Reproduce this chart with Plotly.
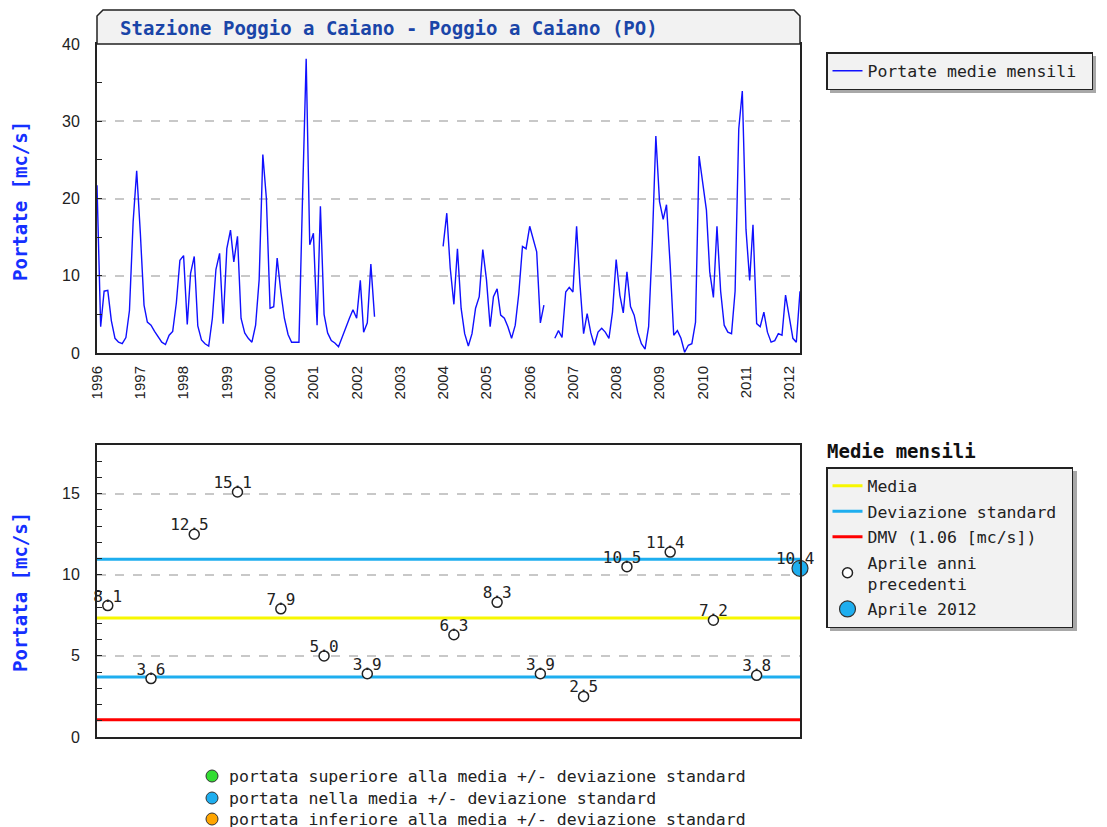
import plotly.graph_objects as go

W, H = 1107, 827
PAGE_MARGIN = 8  # default body margin of the html page
MONO = "DejaVu Sans Mono"
SANS = "Liberation Sans"

# monthly mean flow [mc/s], Jan..Dec, None = missing month
FLOW_1996 = [21.7, 3.4, 8.0, 8.1, 4.2, 1.9, 1.4, 1.2, 2.0, 5.5, 17.0, 23.6]
FLOW_1997 = [15.5, 6.2, 4.0, 3.6, 2.8, 2.1, 1.4, 1.1, 2.3, 2.8, 6.5, 12.0]
FLOW_1998 = [12.6, 3.7, 10.3, 12.5, 3.5, 1.7, 1.2, 0.9, 4.5, 10.8, 12.9, 3.8]
FLOW_1999 = [13.5, 15.9, 11.8, 15.1, 4.5, 2.6, 1.9, 1.4, 3.6, 9.5, 25.7, 20.0]
FLOW_2000 = [5.8, 6.0, 12.3, 7.9, 4.5, 2.4, 1.4, 1.4, 1.4, 20.0, 38.1, 14.0]
FLOW_2001 = [15.5, 3.6, 19.0, 5.0, 2.6, 1.6, 1.3, 0.8, 2.1, 3.2, 4.5, 5.6]
FLOW_2002 = [4.5, 9.4, 2.7, 3.9, 11.5, 4.7, None, None, None, None, None, None]
FLOW_2003 = [None] * 12
FLOW_2004 = [13.8, 18.1, 11.0, 6.3, 13.5, 5.8, 2.5, 0.9, 2.5, 5.8, 7.3, 13.4]
FLOW_2005 = [9.5, 3.4, 7.3, 8.3, 4.9, 4.5, 3.4, 1.9, 3.6, 7.7, 13.8, 13.5]
FLOW_2006 = [16.4, 14.5, 13.1, 3.9, 6.2, None, None, 1.9, 2.9, 2.0, 7.9, 8.5]
FLOW_2007 = [7.9, 16.4, 9.0, 2.5, 5.1, 2.6, 1.0, 2.7, 3.2, 2.7, 1.9, 5.3]
FLOW_2008 = [12.1, 7.5, 5.2, 10.5, 6.0, 4.9, 2.7, 1.2, 0.5, 3.4, 14.2, 28.1]
FLOW_2009 = [19.6, 17.3, 19.2, 11.4, 2.3, 2.9, 1.9, 0.1, 1.0, 1.2, 4.0, 25.5]
FLOW_2010 = [21.6, 18.5, 10.5, 7.2, 16.4, 8.0, 3.6, 2.7, 2.5, 8.0, 29.0, 33.9]
FLOW_2011 = [16.0, 9.4, 16.6, 3.8, 3.4, 5.3, 2.7, 1.4, 1.6, 2.5, 2.3, 7.5]
FLOW_2012 = [4.7, 1.9, 1.4, 8.0]

YEARS = list(range(1996, 2013))

# April means of previous years (2003 missing) and April 2012
APRIL_YEARS = [1996, 1997, 1998, 1999, 2000, 2001, 2002,
               2004, 2005, 2006, 2007, 2008, 2009, 2010, 2011]
APRIL_FLOW = [8.1, 3.6, 12.5, 15.1, 7.9, 5.0, 3.9,
              6.3, 8.3, 3.9, 2.5, 10.5, 11.4, 7.2, 3.8]
APRIL_2012 = 10.4
MEDIA = 7.33
DEV_STD = 3.63
DMV = 1.06

monthly = (FLOW_1996 + FLOW_1997 + FLOW_1998 + FLOW_1999 + FLOW_2000 + FLOW_2001
           + FLOW_2002 + FLOW_2003 + FLOW_2004 + FLOW_2005 + FLOW_2006 + FLOW_2007
           + FLOW_2008 + FLOW_2009 + FLOW_2010 + FLOW_2011 + FLOW_2012)
dates = [f"{1996 + i // 12}-{i % 12 + 1:02d}-01" for i in range(len(monthly))]
X0, X1 = dates[0], dates[-1]
april_dates = [f"{y}-04-01" for y in APRIL_YEARS]


def px(x):
    # screen pixel -> paper fraction
    return (x - PAGE_MARGIN) / W


def py(y):
    return 1 - (y - PAGE_MARGIN) / H


def label(v):
    # pad so that the decimal point sits over the marker
    s = f"{v:.1f}"
    return s + "\u00a0" if v >= 10 else s


CYAN = "#1EAEEF"
fig = go.Figure()

fig.add_trace(go.Scatter(
    x=dates, y=monthly, mode="lines", name="Portate medie mensili\u00a0",
    line=dict(color="#1010ff", width=1.4), legend="legend",
    xaxis="x", yaxis="y",
))

fig.add_trace(go.Scatter(
    x=[X0, X1], y=[MEDIA, MEDIA], mode="lines", name="Media",
    line=dict(color="#f7f700", width=3), legend="legend2",
    xaxis="x2", yaxis="y2", legendgroup="a",
))
fig.add_trace(go.Scatter(
    x=[X0, X1, None, X0, X1],
    y=[MEDIA + DEV_STD, MEDIA + DEV_STD, None, MEDIA - DEV_STD, MEDIA - DEV_STD],
    mode="lines", name="Deviazione standard\u00a0",
    line=dict(color=CYAN, width=3), legend="legend2",
    xaxis="x2", yaxis="y2", legendgroup="b",
))
fig.add_trace(go.Scatter(
    x=[X0, X1], y=[DMV, DMV], mode="lines", name=f"DMV ({DMV:.2f} [mc/s])",
    line=dict(color="#ff0000", width=3), legend="legend2",
    xaxis="x2", yaxis="y2", legendgroup="c",
))
fig.add_trace(go.Scatter(
    x=april_dates, y=APRIL_FLOW,
    mode="markers", name="Aprile anni<br>precedenti",
    marker=dict(symbol="circle", size=10, color="white",
                line=dict(color="#222", width=1.5)),
    cliponaxis=False, legend="legend2",
    xaxis="x2", yaxis="y2", legendgroup="d",
))
fig.add_trace(go.Scatter(
    x=["2012-04-01"], y=[APRIL_2012],
    mode="markers", name="Aprile 2012",
    marker=dict(symbol="circle", size=16, color=CYAN,
                line=dict(color="#333", width=1.2)),
    cliponaxis=False, legend="legend2",
    xaxis="x2", yaxis="y2", legendgroup="e",
))
# value labels just above each marker
fig.add_trace(go.Scatter(
    x=april_dates + ["2012-04-01"], y=APRIL_FLOW + [APRIL_2012],
    mode="text", text=[label(v) for v in APRIL_FLOW + [APRIL_2012]],
    textposition="top center", showlegend=False, cliponaxis=False,
    textfont=dict(family=MONO, size=16, color="#222"),
    xaxis="x2", yaxis="y2",
))

axis_line = dict(showline=True, mirror=True, linecolor="#222", linewidth=2,
                 zeroline=False, automargin=False)
grid = dict(showgrid=True, gridcolor="#c8c8c8", griddash="dash", gridwidth=1.5)

fig.update_layout(
    width=W, height=H,
    margin=dict(l=0, r=0, t=0, b=0, autoexpand=False),
    paper_bgcolor="white", plot_bgcolor="white",
    font=dict(family=SANS, size=16, color="#222"),
    showlegend=True,
    xaxis=dict(
        domain=[px(97), px(800)], anchor="y", type="date", range=[X0, X1],
        tickvals=[f"{y}-01-01" for y in YEARS], ticktext=[str(y) for y in YEARS],
        tickangle=-90, ticks="", showgrid=False, ticklabelstandoff=5,
        tickfont=dict(family=SANS, size=15), **axis_line,
    ),
    yaxis=dict(
        domain=[py(353), py(44)], anchor="x", range=[0, 40], dtick=10, tick0=0,
        ticks="inside", ticklen=5, tickcolor="#222", ticklabelstandoff=12,
        minor=dict(dtick=5, ticks="inside", ticklen=5, tickcolor="#222", showgrid=False),
        **grid, **axis_line,
    ),
    xaxis2=dict(
        domain=[px(97), px(800)], anchor="y2", type="date", range=[X0, X1],
        showticklabels=False, ticks="", showgrid=False, **axis_line,
    ),
    yaxis2=dict(
        domain=[py(737), py(445)], anchor="x2", range=[0, 18], dtick=5, tick0=0,
        ticks="inside", ticklen=5, tickcolor="#222", ticklabelstandoff=12,
        minor=dict(dtick=1, ticks="inside", ticklen=5, tickcolor="#222", showgrid=False),
        **grid, **axis_line,
    ),
    legend=dict(
        x=px(826), y=py(52), xanchor="left", yanchor="top",
        bgcolor="#f2f2f2", bordercolor="#222", borderwidth=1.5,
        font=dict(family=MONO, size=16.5, color="#222"), itemwidth=30,
    ),
    legend2=dict(
        x=px(826), y=py(467), xanchor="left", yanchor="top",
        bgcolor="#f2f2f2", bordercolor="#222", borderwidth=1.5,
        font=dict(family=MONO, size=16.5, color="#222"), itemwidth=30,
        tracegroupgap=1,
    ),
)

# header box with chamfered top corners
path = (f"M {px(97)},{py(44)} L {px(97)},{py(16)} L {px(103)},{py(10)} "
        f"L {px(794)},{py(10)} L {px(800)},{py(16)} L {px(800)},{py(44)} Z")
fig.add_shape(type="path", path=path, xref="paper", yref="paper",
              fillcolor="#f2f2f2", line=dict(color="#222", width=1.5))

# legend shadows
for x0, y0, x1, y1 in [(830, 56, 1096, 93), (830, 471, 1077, 631)]:
    fig.add_shape(type="rect", xref="paper", yref="paper",
                  x0=px(x0), x1=px(x1), y0=py(y1), y1=py(y0),
                  fillcolor="#a8a8a8", line=dict(width=0))

fig.add_annotation(
    text="<b>Stazione Poggio a Caiano - Poggio a Caiano (PO)</b>",
    xref="paper", yref="paper", x=px(118), y=py(28), xanchor="left", yanchor="middle",
    showarrow=False, font=dict(family=MONO, size=19, color="#1a45a8"),
)
for txt, yc in [("Portate [mc/s]", 201), ("Portata [mc/s]", 592)]:
    fig.add_annotation(
        text=f"<b>{txt}</b>", xref="paper", yref="paper", x=px(20), y=py(yc),
        xanchor="center", yanchor="middle", textangle=-90, showarrow=False,
        font=dict(family=MONO, size=19, color="#1530ff"),
    )
fig.add_annotation(
    text="<b>Medie mensili</b>", xref="paper", yref="paper", x=px(825), y=py(451),
    xanchor="left", yanchor="middle", showarrow=False,
    font=dict(family=MONO, size=19, color="#111"),
)

notes = [
    ("#33dd33", "portata superiore alla media +/- deviazione standard", 776),
    (CYAN, "portata nella media +/- deviazione standard", 798),
    ("#ffa500", "portata inferiore alla media +/- deviazione standard", 819),
]
for color, txt, yc in notes:
    fig.add_shape(type="circle", xref="paper", yref="paper",
                  x0=px(206), x1=px(218), y0=py(yc + 6), y1=py(yc - 6),
                  fillcolor=color, line=dict(color="#333", width=1))
    fig.add_annotation(
        text=txt, xref="paper", yref="paper", x=px(227), y=py(yc),
        xanchor="left", yanchor="middle", showarrow=False,
        font=dict(family=MONO, size=16.5, color="#222"),
    )

fig.write_html("out.html")
